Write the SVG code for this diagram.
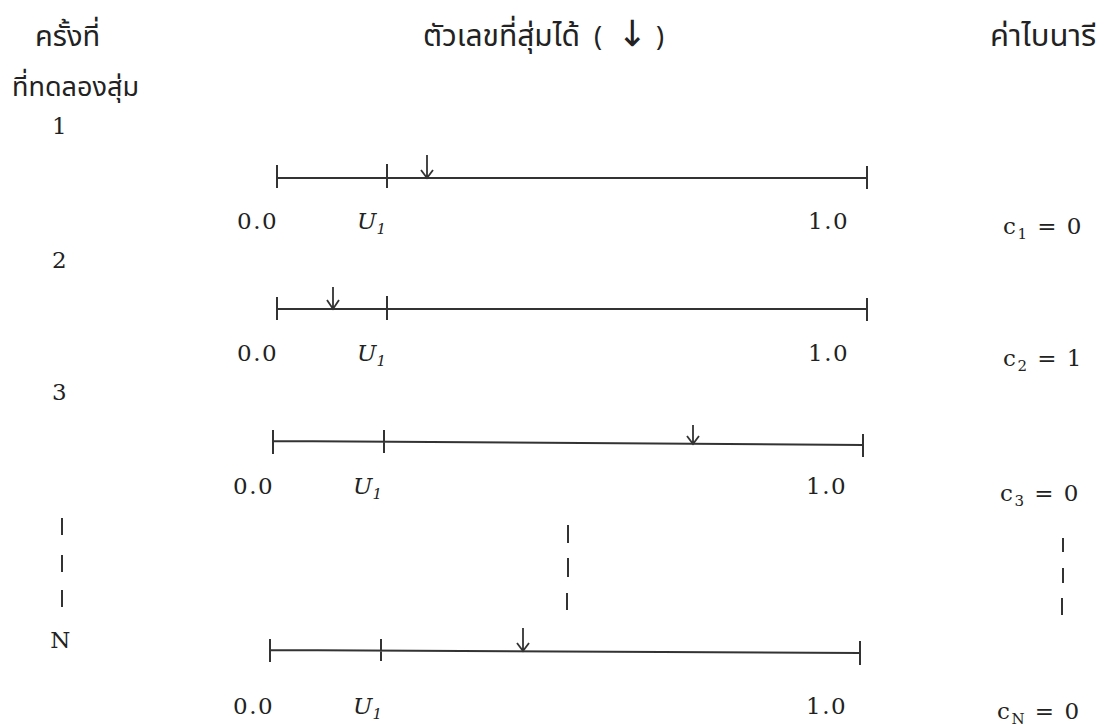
<svg xmlns="http://www.w3.org/2000/svg" width="1112" height="726" viewBox="0 0 1112 726">
<style>
.th{font-family:"Noto Sans Thai","Noto Sans","DejaVu Sans",sans-serif;font-size:27px;fill:#222}
.num{font-family:"DejaVu Serif","Liberation Serif",serif;font-size:23px;fill:#222;letter-spacing:1.5px}
.it{font-family:"DejaVu Serif","Liberation Serif",serif;font-size:23px;font-style:italic;fill:#222}
.sub{font-size:15px}
.ln{stroke:#333;stroke-width:2;fill:none}
.ar{stroke:#333;stroke-width:1.8;fill:none}
</style>
<rect width="1112" height="726" fill="#fff"/>
<g id="headers">
<text class="th" x="35" y="46" style="font-size:29px">ครั้งที่</text>
<text class="th" x="12" y="96">ที่ทดลองสุ่ม</text>
<text class="th" x="423" y="46" style="font-size:30px">ตัวเลขที่สุ่มได้</text>
<text class="th" x="594" y="46">(</text>
<text class="th" x="617" y="46" style="font-size:36px">↓</text>
<text class="th" x="656" y="46">)</text>
<text class="th" x="990" y="46" style="font-size:31px">ค่าไบนารี</text>
</g>
<g id="row-labels">
<text class="num" x="60" y="134" text-anchor="middle">1</text>
<text class="num" x="60" y="268" text-anchor="middle">2</text>
<text class="num" x="60" y="400" text-anchor="middle">3</text>
<text class="num" x="61" y="648" text-anchor="middle">N</text>
</g>
<g id="connectors">
<!-- row 1 -->
<path class="ln" d="M277,178 H867 M277,165 V188 M387,164 V188 M867,166 V189"/>
<path class="ar" d="M427,155 V177 M421,170 L427,178 L433,170"/>
<!-- row 2 -->
<path class="ln" d="M277,309 H867 M277,297 V320 M387,296 V320 M867,298 V321"/>
<path class="ar" d="M333,287 V308 M327,300 L333,309 L339,300"/>
<!-- row 3 -->
<path class="ln" d="M273,441 L863,445 M273,430 V454 M384,430 V453 M863,434 V457"/>
<path class="ar" d="M693,425 V443 M687,436 L693,444 L699,436"/>
<!-- row N -->
<path class="ln" d="M270,650 L860,653 M270,639 V662 M381,639 V661 M860,641 V665"/>
<path class="ar" d="M523,628 V651 M517,643 L523,651 L529,643"/>
<!-- dashes -->
<path class="ln" d="M62,518 V535 M62,555 V572 M62,590 V607"/>
<path class="ln" d="M568,525 V543 M568,558 V577 M567,593 V610"/>
<path class="ln" d="M1063,538 V552 M1063,568 V583 M1062,598 V615"/>
</g>
<g id="scale-1">
<text class="num" x="237" y="229">0.0</text>
<text class="it" x="357" y="229">U<tspan class="sub" dy="5">1</tspan></text>
<text class="num" x="808" y="229">1.0</text>
<text class="num" x="1003" y="234">c<tspan class="sub" dy="5">1</tspan><tspan dy="-5"> = 0</tspan></text>
</g>
<g id="scale-2">
<text class="num" x="237" y="361">0.0</text>
<text class="it" x="357" y="361">U<tspan class="sub" dy="5">1</tspan></text>
<text class="num" x="808" y="361">1.0</text>
<text class="num" x="1003" y="366">c<tspan class="sub" dy="5">2</tspan><tspan dy="-5"> = 1</tspan></text>
</g>
<g id="scale-3">
<text class="num" x="233" y="494">0.0</text>
<text class="it" x="353" y="494">U<tspan class="sub" dy="5">1</tspan></text>
<text class="num" x="806" y="494">1.0</text>
<text class="num" x="1000" y="501">c<tspan class="sub" dy="5">3</tspan><tspan dy="-5"> = 0</tspan></text>
</g>
<g id="scale-N">
<text class="num" x="233" y="714">0.0</text>
<text class="it" x="353" y="714">U<tspan class="sub" dy="5">1</tspan></text>
<text class="num" x="806" y="714">1.0</text>
<text class="num" x="997" y="719">c<tspan class="sub" dy="5">N</tspan><tspan dy="-5"> = 0</tspan></text>
</g>
</svg>
